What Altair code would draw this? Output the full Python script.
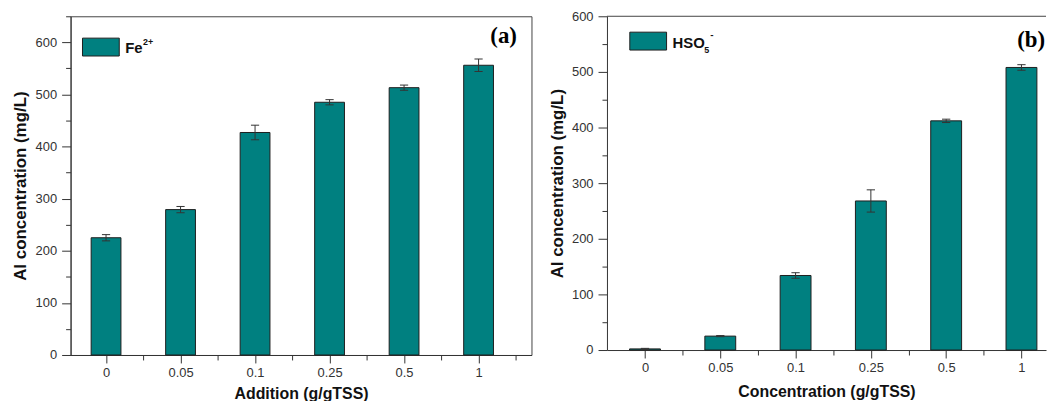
import json
import altair as alt
import pandas as pd

# ---- data ----
categories = ["0", "0.05", "0.1", "0.25", "0.5", "1"]
fe_values = [225, 279, 427, 485, 513, 556]
fe_errors = [6, 6, 14, 5, 5, 12]
hso_values = [2, 25, 134, 268, 412, 508]
hso_errors = [1, 1, 5, 20, 3, 5]
panel_labels = ["(a)", "(b)"]
x_titles = ["Addition (g/gTSS)", "Concentration (g/gTSS)"]
y_title = "Al concentration (mg/L)"

TEAL = "#008080"
DARK = "#333333"
FONT = "Liberation Sans"

one = pd.DataFrame({"k": [0]})
lab_js = json.dumps(categories)


def panel(values, errors, half, xdomain, xticks, ymax, width, height, xtitle,
          y_tp, x_tp, plabel, plabel_xy, legend_rect, legend_texts, top_rule):
    df = pd.DataFrame({"pos": list(range(len(categories))), "value": values, "err": errors})
    base = alt.Chart(df).transform_calculate(
        lo="datum.value - datum.err",
        hi="datum.value + datum.err",
        zero="0",
        x0=f"datum.pos - {half}",
        x1=f"datum.pos + {half}",
        c0="datum.pos - 0.055",
        c1="datum.pos + 0.055",
    )
    xscale = alt.Scale(domain=xdomain, nice=False, zero=False)
    yscale = alt.Scale(domain=[0, ymax], nice=False)
    xaxis = alt.Axis(
        values=xticks,
        labelExpr=f"datum.value % 1 == 0 ? {lab_js}[round(datum.value)] : ''",
        tickSize={"condition": {"test": "datum.value % 1 == 0", "value": 8}, "value": 5},
        labelPadding=4,
        titlePadding=x_tp,
        titleFontSize=16,
        grid=False,
    )
    yaxis = alt.Axis(
        values=list(range(0, ymax + 1, 50)),
        labelExpr="datum.value % 100 == 0 ? datum.label : ''",
        tickSize={"condition": {"test": "datum.value % 100 == 0", "value": 9}, "value": 5},
        labelPadding=5,
        titlePadding=y_tp,
        titleFontSize=17,
        grid=False,
    )

    def X(f):
        return alt.X(f, type="quantitative", scale=xscale, axis=xaxis, title=xtitle)

    def Y(f):
        return alt.Y(f, type="quantitative", scale=yscale, axis=yaxis, title=y_title)

    bars = base.mark_rect(color=TEAL, stroke="#1e1e1e", strokeWidth=1).encode(
        x=X("x0"), x2="x1:Q", y=Y("value"), y2="zero:Q"
    )
    err = base.mark_rule(color=DARK, strokeWidth=1).encode(x=X("pos"), y=Y("lo"), y2="hi:Q")
    cap_t = base.mark_rule(color=DARK, strokeWidth=1).encode(x=X("c0"), x2="c1:Q", y=Y("hi"))
    cap_b = base.mark_rule(color=DARK, strokeWidth=1).encode(x=X("c0"), x2="c1:Q", y=Y("lo"))

    rect = alt.Chart(one).mark_rect(color=TEAL, stroke="#1e1e1e", strokeWidth=1).encode(
        x=alt.value(legend_rect[0]), x2=alt.value(legend_rect[1]),
        y=alt.value(legend_rect[2]), y2=alt.value(legend_rect[3]),
    )
    layers = [bars, err, cap_t, cap_b, rect]
    for txt, px, py, size in legend_texts:
        layers.append(
            alt.Chart(one).mark_text(
                font=FONT, fontWeight="bold", fontSize=size, align="left",
                baseline="alphabetic", color="#111",
            ).encode(x=alt.value(px), y=alt.value(py), text=alt.value(txt))
        )
    layers.append(
        alt.Chart(one).mark_text(
            font="Liberation Serif", fontWeight="bold", fontSize=23, align="center",
            baseline="middle", color="#000",
        ).encode(x=alt.value(plabel_xy[0]), y=alt.value(plabel_xy[1]), text=alt.value(plabel))
    )
    if top_rule:
        layers.append(
            alt.Chart(one).mark_rule(color="#444", strokeWidth=1).encode(
                x=alt.value(0), x2=alt.value(width), y=alt.value(0)
            )
        )
    ch = alt.layer(*layers).properties(width=width, height=height)
    if top_rule:
        ch = ch.properties(view=alt.ViewBackground(stroke="transparent"))
    return ch


left = panel(
    fe_values, fe_errors, 0.2, [-0.476, 5.71], [0, 0.5, 1, 1.5, 2, 2.5, 3, 3.5, 4, 4.5, 5, 5.5],
    650, 464, 341, x_titles[0], 6, 6, panel_labels[0], (436, 20),
    (12, 49, 22, 40), [("Fe", 55, 37, 15), ("2+", 73, 29, 9)], False,
)
right = panel(
    hso_values, hso_errors, 0.205, [-0.505, 5.326], [0, 0.5, 1, 1.5, 2, 2.5, 3, 3.5, 4, 4.5, 5],
    600, 442, 336, x_titles[1], 5, 9, panel_labels[1], (427, 24),
    (23, 60, 16, 34), [("HSO", 66, 32, 15), ("5", 98, 37, 9), ("-", 104, 22, 10)], True,
)

chart = (
    alt.hconcat(left, right, spacing=76, bounds="flush")
    .properties(padding={"top": 0, "left": 2, "right": 0, "bottom": 0}, background="white")
    .configure_axis(
        labelFont=FONT, labelFontSize=13, labelColor=DARK,
        titleFont=FONT, titleFontWeight="bold", titleColor="#111",
        domainColor=DARK, tickColor=DARK,
    )
    .configure_view(stroke="#444")
)

chart.save("out.html", embed_options={"renderer": "svg", "actions": False})
